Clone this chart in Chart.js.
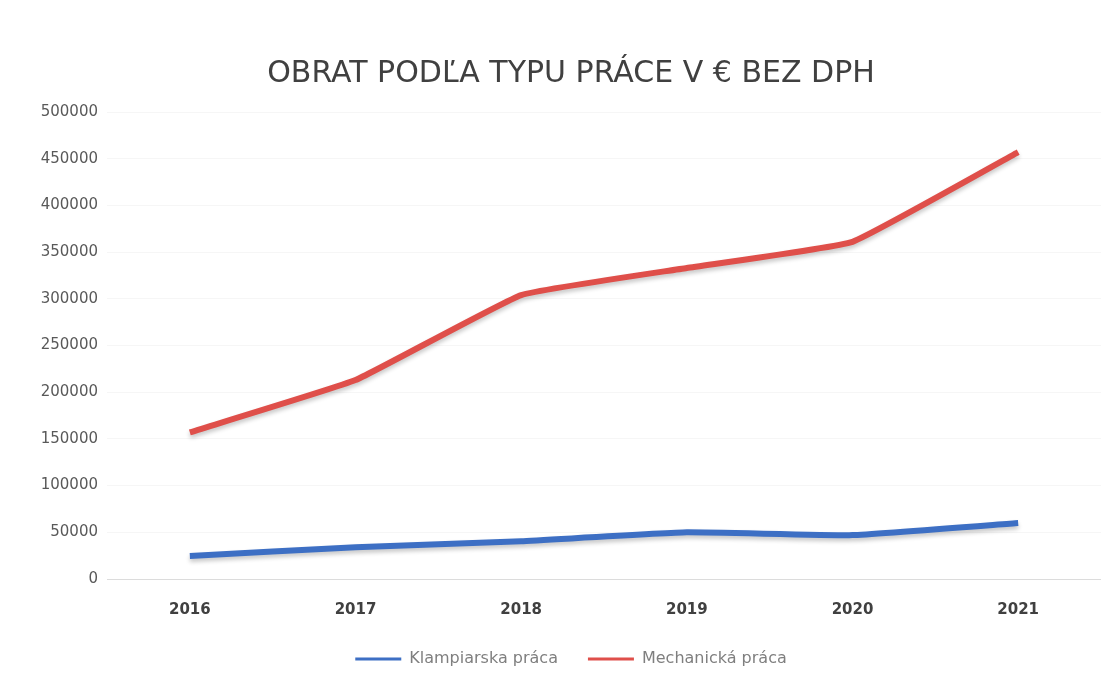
<!DOCTYPE html>
<html>
<head>
<meta charset="utf-8">
<script src="https://cdn.jsdelivr.net/npm/chart.js@4/dist/chart.umd.min.js"></script>
<style>
  html, body { margin: 0; padding: 0; background: #ffffff; }
  #wrap { width: 1112px; height: 688px; }
</style>
</head>
<body>
<div id="wrap"><canvas id="chart-obrat" width="1112" height="688"></canvas></div>
<script>
var years = ['2016', '2017', '2018', '2019', '2020', '2021'];
var klampiarska = [24600, 34000, 40500, 50000, 47000, 60000];
var mechanicka = [157000, 213000, 304000, 333000, 361000, 457000];
var yTicks = [0, 50000, 100000, 150000, 200000, 250000, 300000, 350000, 400000, 450000, 500000];

var fontFamily = "'DejaVu Sans', sans-serif";

// soft shadow under the lines, like the original
var lineShadow = {
    id: 'lineShadow',
    beforeDatasetDraw: function (chart) {
        var ctx = chart.ctx;
        ctx.save();
        ctx.shadowColor = 'rgba(0,0,0,0.22)';
        ctx.shadowBlur = 4;
        ctx.shadowOffsetY = 3;
    },
    afterDatasetDraw: function (chart) {
        chart.ctx.restore();
    }
};

var ctx = document.getElementById('chart-obrat');
var myChart = new Chart(ctx, {
    type: 'line',
    data: {
        labels: years,
        datasets: [{
            label: 'Klampiarska práca',
            data: klampiarska,
            borderColor: '#3d6fc4',
            backgroundColor: '#3d6fc4',
            borderWidth: 6,
            pointRadius: 0,
            tension: 0.1,
            fill: false
        }, {
            label: 'Mechanická práca',
            data: mechanicka,
            borderColor: '#df4f4a',
            backgroundColor: '#df4f4a',
            borderWidth: 6,
            pointRadius: 0,
            tension: 0.1,
            fill: false
        }]
    },
    options: {
        responsive: false,
        animation: false,
        layout: {
            padding: { left: 41, right: 11, top: 0, bottom: 11 }
        },
        scales: {
            x: {
                offset: true,
                grid: { display: false, drawTicks: false },
                border: { display: false },
                ticks: {
                    padding: 22,
                    color: '#404040',
                    font: { family: fontFamily, size: 15, weight: 'bold' }
                },
                afterFit: function (scale) { scale.height = 42; }
            },
            y: {
                min: 0,
                max: 500000,
                afterBuildTicks: function (scale) {
                    scale.ticks = yTicks.map(function (v) { return { value: v }; });
                },
                grid: {
                    drawTicks: false,
                    color: function (c) { return c.tick && c.tick.value === 0 ? '#dcdcdc' : '#f6f6f6'; }
                },
                border: { display: false },
                ticks: {
                    padding: 9,
                    color: '#595959',
                    font: { family: fontFamily, size: 15 },
                    callback: function (v) { return String(v); }
                },
                afterFit: function (scale) { scale.width = 66; }
            }
        },
        plugins: {
            title: {
                display: true,
                text: 'OBRAT PODĽA TYPU PRÁCE V € BEZ DPH',
                color: '#404040',
                font: { family: fontFamily, size: 30, weight: 'normal' },
                padding: { top: 56, bottom: 20 }
            },
            legend: {
                display: true,
                position: 'bottom',
                labels: {
                    boxWidth: 46,
                    boxHeight: 3,
                    padding: 30,
                    color: '#7f7f7f',
                    font: { family: fontFamily, size: 16 },
                    generateLabels: function (chart) {
                        var items = Chart.defaults.plugins.legend.labels.generateLabels(chart);
                        items.forEach(function (it) {
                            it.fillStyle = it.strokeStyle;
                            it.lineWidth = 0;
                        });
                        return items;
                    }
                }
            },
            tooltip: { enabled: false }
        }
    },
    plugins: [lineShadow]
});
</script>
</body>
</html>
